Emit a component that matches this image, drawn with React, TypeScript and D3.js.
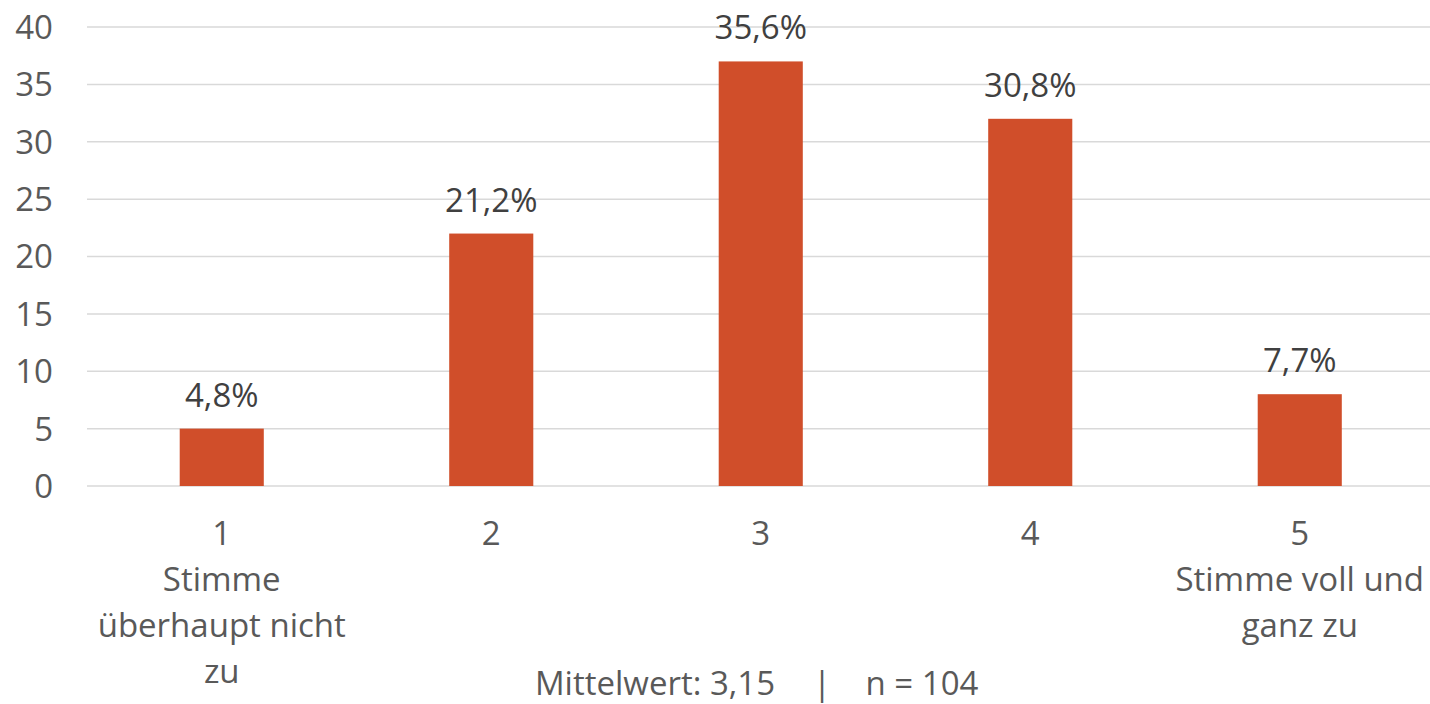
import React from "react";
import * as d3 from "d3";

const categories = ["1", "2", "3", "4", "5"];
const categoryLabels: string[][] = [
  ["1", "Stimme", "überhaupt nicht", "zu"],
  ["2"],
  ["3"],
  ["4"],
  ["5", "Stimme voll und", "ganz zu"],
];
const counts = [5, 22, 37, 32, 8];
const percentLabels = ["4,8%", "21,2%", "35,6%", "30,8%", "7,7%"];
const yTicks = [0, 5, 10, 15, 20, 25, 30, 35, 40];
const footerParts = ["Mittelwert: 3,15", "|", "n = 104"];

const W = 1430;
const H = 704;
const FONT = "'Open Sans', sans-serif";
const TEXT = "#595959";
const BAR = "#D04E2A";
const GRID = "#D9D9D9";
const FS = 33;

export default function App() {
  const x = d3
    .scaleBand<string>()
    .domain(categories)
    .range([87, 1434.5])
    .paddingInner(0.688)
    .paddingOuter(0.344);
  const y = d3.scaleLinear().domain([0, 40]).range([486, 27]);

  return (
    <svg
      width={W}
      height={H}
      style={{ position: "absolute", left: 0, top: 0, background: "#fff" }}
      fontFamily={FONT}
    >
      {yTicks.map((t) => (
        <g key={t}>
          <line x1={87} x2={1430} y1={y(t)} y2={y(t)} stroke={GRID} strokeWidth={1.5} />
          <text x={53} y={y(t)} dy="0.36em" textAnchor="end" fontSize={FS} fill={TEXT}>
            {t}
          </text>
        </g>
      ))}
      {categories.map((c, i) => {
        const bx = x(c)!;
        const cx = bx + x.bandwidth() / 2;
        return (
          <g key={c}>
            <rect x={bx} y={y(counts[i])} width={x.bandwidth()} height={y(0) - y(counts[i])} fill={BAR} />
            <text x={cx} y={y(counts[i]) - 22} textAnchor="middle" fontSize={FS} fill="#404040">
              {percentLabels[i]}
            </text>
            {categoryLabels[i].map((l, j) => (
              <text key={j} x={cx} y={545 + j * 46} textAnchor="middle" fontSize={FS} fill={TEXT}>
                {l}
              </text>
            ))}
          </g>
        );
      })}
      <text x={655} y={695} textAnchor="middle" fontSize={FS} fill={TEXT}>{footerParts[0]}</text>
      <text x={822} y={695} textAnchor="middle" fontSize={FS} fill={TEXT}>{footerParts[1]}</text>
      <text x={922} y={695} textAnchor="middle" fontSize={FS} fill={TEXT}>{footerParts[2]}</text>
    </svg>
  );
}
